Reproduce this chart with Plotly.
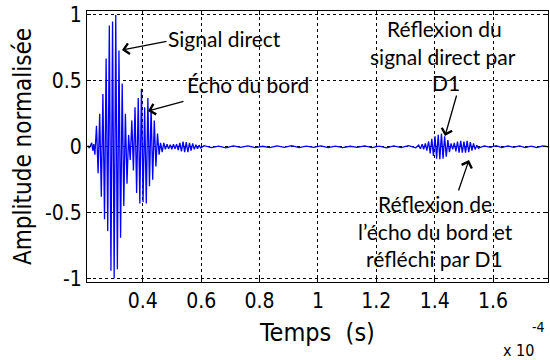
import plotly.graph_objects as go

# ---- data (time in units of 1e-4 s, normalised amplitude) ----
t_pre = [0.209, 0.213, 0.217, 0.221, 0.225, 0.229, 0.232]
a_pre = [0.0, 0.005, -0.01, 0.012, 0.03, -0.03, 0.02]

t_direct = [0.236, 0.2415, 0.247, 0.2525, 0.258, 0.2635, 0.269, 0.2745, 0.280, 0.2855,
            0.291, 0.2965, 0.302, 0.3075, 0.313, 0.3185, 0.324, 0.3295, 0.335, 0.3405,
            0.346, 0.3515]
a_direct = [-0.06, 0.16, -0.20, 0.25, -0.38, 0.40, -0.55, 0.67, -0.64, 0.92,
            -0.94, 0.95, -1.00, 1.00, -0.93, 0.73, -0.69, 0.48, -0.45, 0.25,
            -0.28, 0.09]

t_echo = [0.357, 0.3625, 0.368, 0.3735, 0.379, 0.3845, 0.390, 0.3955, 0.401, 0.4065,
          0.412, 0.4175, 0.423, 0.4285, 0.434, 0.4395, 0.445, 0.4505, 0.456]
a_echo = [-0.10, 0.20, -0.18, 0.30, -0.35, 0.37, -0.43, 0.44, -0.42, 0.30,
          -0.43, 0.37, -0.30, 0.30, -0.25, 0.20, -0.15, 0.10, -0.06]

t_tail = [0.461, 0.4665, 0.472, 0.4775, 0.483, 0.4885, 0.494, 0.4995, 0.505, 0.5105,
          0.516, 0.5215, 0.527, 0.5325, 0.538, 0.5435, 0.549, 0.5545, 0.560, 0.5655,
          0.571, 0.5765, 0.582, 0.5875, 0.593, 0.5985]
a_tail = [0.03, -0.04, 0.03, -0.02, 0.02, -0.015, 0.015, -0.02, 0.02, -0.015,
          0.02, -0.025, 0.03, -0.035, 0.04, -0.04, 0.035, -0.04, 0.03, -0.03,
          0.025, -0.02, 0.015, -0.015, 0.012, -0.01]

t_quiet = [0.61, 0.635, 0.66, 0.685, 0.71, 0.735, 0.76, 0.785, 0.81, 0.835,
           0.86, 0.885, 0.91, 0.935, 0.96, 0.985, 1.01, 1.035, 1.06, 1.085,
           1.11, 1.135, 1.16, 1.185, 1.21, 1.235, 1.26, 1.285, 1.31, 1.335]
a_quiet = [0.008, -0.006, 0.005, -0.008, 0.006, -0.004, 0.007, -0.006, 0.004, -0.007,
           0.006, -0.005, 0.008, -0.006, 0.005, -0.004, 0.006, -0.007, 0.005, -0.006,
           0.004, -0.005, 0.007, -0.006, 0.005, -0.008, 0.006, -0.007, 0.009, -0.008]

t_prerefl = [1.345, 1.351, 1.357, 1.362, 1.368, 1.373]
a_prerefl = [0.012, -0.015, 0.02, -0.02, 0.025, -0.03]

t_refl1 = [1.379, 1.3845, 1.390, 1.3955, 1.401, 1.4065, 1.412, 1.4175, 1.423, 1.4285,
           1.434, 1.4395, 1.445, 1.4505, 1.456, 1.4615]
a_refl1 = [0.04, -0.05, 0.06, -0.07, 0.08, -0.09, 0.09, -0.095, 0.10, -0.09,
           0.08, -0.075, 0.05, -0.04, 0.025, -0.02]

t_refl2 = [1.467, 1.4725, 1.478, 1.4835, 1.489, 1.4945, 1.500, 1.5055, 1.511, 1.5165,
           1.522, 1.5275, 1.533, 1.5385, 1.544, 1.5495]
a_refl2 = [0.03, -0.035, 0.04, -0.045, 0.045, -0.045, 0.04, -0.045, 0.045, -0.04,
           0.035, -0.03, 0.025, -0.02, 0.012, -0.01]

t_end = [1.57, 1.59, 1.61, 1.63, 1.65, 1.67, 1.69, 1.71, 1.73, 1.75, 1.77, 1.788]
a_end = [0.006, -0.005, 0.008, -0.006, 0.007, -0.005, 0.006, -0.007, 0.005, -0.006, 0.007, 0.0]

x_ticks = [0.4, 0.6, 0.8, 1.0, 1.2, 1.4, 1.6]
x_ticktext = ["0.4", "0.6", "0.8", "1", "1.2", "1.4", "1.6"]
y_ticks = [-1, -0.5, 0, 0.5, 1]
y_ticktext = ["-1", "-0.5", "0", "0.5", "1"]

t = t_pre + t_direct + t_echo + t_tail + t_quiet + t_prerefl + t_refl1 + t_refl2 + t_end
a = a_pre + a_direct + a_echo + a_tail + a_quiet + a_prerefl + a_refl1 + a_refl2 + a_end

# ---- figure ----
W, H = 550, 360
XMIN, XMAX = 0.209, 1.788
YMIN, YMAX = -1.026, 1.03
L, R, T, B = 87, 548, 11, 282  # plot area in pixels


def X(px):
    return XMIN + (px - L) / (R - L) * (XMAX - XMIN)


def Y(py):
    return YMAX - (py - T) / (B - T) * (YMAX - YMIN)


fig = go.Figure()
fig.add_trace(go.Scatter(x=t, y=a, mode="lines",
                         line=dict(color="#0000FF", width=1.3),
                         showlegend=False, hoverinfo="skip"))

axis_font = "Liberation Sans Narrow, DejaVu Sans Condensed, Roboto Condensed, sans-serif"
ann_font = dict(family="Lato, Open Sans, sans-serif", size=21, color="black")

fig.update_layout(
    width=W, height=H,
    margin=dict(l=L, r=W - R, t=T, b=H - B),
    plot_bgcolor="white", paper_bgcolor="white",
    xaxis=dict(range=[XMIN, XMAX], tickvals=x_ticks, ticktext=x_ticktext,
               automargin=False, ticklabeloverflow="allow",
               showgrid=True, gridcolor="black", griddash="dot", gridwidth=1,
               zeroline=False, showline=True, linecolor="black", linewidth=1,
               mirror="ticks", ticks="inside", ticklen=4, tickcolor="black",
               tickfont=dict(family=axis_font, size=21, color="black"),
               title=dict(text="Temps  (s)", font=dict(family=axis_font, size=25, color="black"),
                          standoff=11)),
    yaxis=dict(range=[YMIN, YMAX], tickvals=y_ticks, ticktext=y_ticktext,
               automargin=False, ticklabeloverflow="allow",
               showgrid=True, gridcolor="black", griddash="dot", gridwidth=1,
               zeroline=False, showline=True, linecolor="black", linewidth=1,
               mirror="ticks", ticks="inside", ticklen=4, tickcolor="black",
               tickfont=dict(family=axis_font, size=21, color="black"),
               title=dict(text="Amplitude normalisée",
                          font=dict(family=axis_font, size=24, color="black"),
                          standoff=6)),
)

# arrows (tip, tail in pixels)
arrows = [((122, 50), (168, 41)),
          ((148, 111), (185, 101)),
          ((445, 136), (457, 94)),
          ((469, 160), (458, 192))]
for (tx, ty), (sx, sy) in arrows:
    fig.add_annotation(x=X(tx), y=Y(ty), xref="x", yref="y", text="",
                       showarrow=True, arrowhead=4, arrowsize=1.6, arrowwidth=1.3,
                       arrowcolor="black", ax=sx - tx, ay=sy - ty)

labels = [("Signal direct", 224, 38),
          ("Écho du bord", 248, 84),
          ("Réflexion du", 444, 28),
          ("signal direct par", 443, 56),
          ("D1", 446, 82),
          ("Réflexion de", 435, 203),
          ("l’écho du bord et", 435, 231),
          ("réfléchi par D1", 434, 258)]
for txt, px, py in labels:
    fig.add_annotation(x=X(px), y=Y(py), xref="x", yref="y", text=txt,
                       showarrow=False, font=ann_font, xanchor="center", yanchor="middle")

fig.add_annotation(x=(536 - L) / (R - L), y=(B - 350) / (B - T), xref="paper", yref="paper",
                   text="x 10", showarrow=False, xanchor="right", yanchor="middle",
                   font=dict(family=axis_font, size=16, color="black"))
fig.add_annotation(x=(547 - L) / (R - L), y=(B - 327) / (B - T), xref="paper", yref="paper",
                   text="-4", showarrow=False, xanchor="right", yanchor="middle",
                   font=dict(family=axis_font, size=14, color="black"))

# remove the browser's default 8px body margin so the 550x360 figure fills the window
fig.write_html("out.html", config={"displayModeBar": False},
               post_script="document.body.style.margin='0';")
